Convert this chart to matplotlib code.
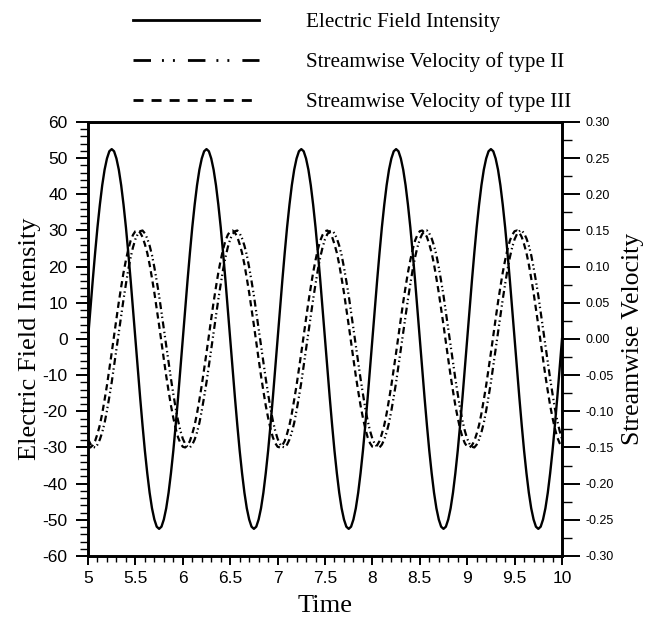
import numpy as np
import matplotlib
matplotlib.use("Agg")
from matplotlib import pyplot as plt
from matplotlib.lines import Line2D
from matplotlib.ticker import MultipleLocator, FormatStrFormatter

plt.rcParams['lines.scale_dashes'] = False
plt.rcParams['axes.unicode_minus'] = False

time = np.linspace(5, 10, 201)

electric_field = [
    0, 8.2, 16.2, 23.8, 30.9, 37.1, 42.5, 46.8, 49.9, 51.9, 52.5, 51.9, 49.9, 46.8, 42.5, 37.1, 30.9, 23.8, 16.2, 8.2,
    0, -8.2, -16.2, -23.8, -30.9, -37.1, -42.5, -46.8, -49.9, -51.9, -52.5, -51.9, -49.9, -46.8, -42.5, -37.1, -30.9, -23.8, -16.2, -8.2,
    0, 8.2, 16.2, 23.8, 30.9, 37.1, 42.5, 46.8, 49.9, 51.9, 52.5, 51.9, 49.9, 46.8, 42.5, 37.1, 30.9, 23.8, 16.2, 8.2,
    0, -8.2, -16.2, -23.8, -30.9, -37.1, -42.5, -46.8, -49.9, -51.9, -52.5, -51.9, -49.9, -46.8, -42.5, -37.1, -30.9, -23.8, -16.2, -8.2,
    0, 8.2, 16.2, 23.8, 30.9, 37.1, 42.5, 46.8, 49.9, 51.9, 52.5, 51.9, 49.9, 46.8, 42.5, 37.1, 30.9, 23.8, 16.2, 8.2,
    0, -8.2, -16.2, -23.8, -30.9, -37.1, -42.5, -46.8, -49.9, -51.9, -52.5, -51.9, -49.9, -46.8, -42.5, -37.1, -30.9, -23.8, -16.2, -8.2,
    0, 8.2, 16.2, 23.8, 30.9, 37.1, 42.5, 46.8, 49.9, 51.9, 52.5, 51.9, 49.9, 46.8, 42.5, 37.1, 30.9, 23.8, 16.2, 8.2,
    0, -8.2, -16.2, -23.8, -30.9, -37.1, -42.5, -46.8, -49.9, -51.9, -52.5, -51.9, -49.9, -46.8, -42.5, -37.1, -30.9, -23.8, -16.2, -8.2,
    0, 8.2, 16.2, 23.8, 30.9, 37.1, 42.5, 46.8, 49.9, 51.9, 52.5, 51.9, 49.9, 46.8, 42.5, 37.1, 30.9, 23.8, 16.2, 8.2,
    0, -8.2, -16.2, -23.8, -30.9, -37.1, -42.5, -46.8, -49.9, -51.9, -52.5, -51.9, -49.9, -46.8, -42.5, -37.1, -30.9, -23.8, -16.2, -8.2,
    0,
]

velocity_II = [
    -0.138, -0.145, -0.149, -0.150, -0.146, -0.139, -0.129, -0.116, -0.099, -0.080, -0.060, -0.037, -0.014, 0.009, 0.033, 0.055, 0.076, 0.096, 0.113, 0.127,
    0.138, 0.145, 0.149, 0.150, 0.146, 0.139, 0.129, 0.116, 0.099, 0.080, 0.060, 0.037, 0.014, -0.009, -0.033, -0.055, -0.076, -0.096, -0.113, -0.127,
    -0.138, -0.145, -0.149, -0.150, -0.146, -0.139, -0.129, -0.116, -0.099, -0.080, -0.060, -0.037, -0.014, 0.009, 0.033, 0.055, 0.076, 0.096, 0.113, 0.127,
    0.138, 0.145, 0.149, 0.150, 0.146, 0.139, 0.129, 0.116, 0.099, 0.080, 0.060, 0.037, 0.014, -0.009, -0.033, -0.055, -0.076, -0.096, -0.113, -0.127,
    -0.138, -0.145, -0.149, -0.150, -0.146, -0.139, -0.129, -0.116, -0.099, -0.080, -0.060, -0.037, -0.014, 0.009, 0.033, 0.055, 0.076, 0.096, 0.113, 0.127,
    0.138, 0.145, 0.149, 0.150, 0.146, 0.139, 0.129, 0.116, 0.099, 0.080, 0.060, 0.037, 0.014, -0.009, -0.033, -0.055, -0.076, -0.096, -0.113, -0.127,
    -0.138, -0.145, -0.149, -0.150, -0.146, -0.139, -0.129, -0.116, -0.099, -0.080, -0.060, -0.037, -0.014, 0.009, 0.033, 0.055, 0.076, 0.096, 0.113, 0.127,
    0.138, 0.145, 0.149, 0.150, 0.146, 0.139, 0.129, 0.116, 0.099, 0.080, 0.060, 0.037, 0.014, -0.009, -0.033, -0.055, -0.076, -0.096, -0.113, -0.127,
    -0.138, -0.145, -0.149, -0.150, -0.146, -0.139, -0.129, -0.116, -0.099, -0.080, -0.060, -0.037, -0.014, 0.009, 0.033, 0.055, 0.076, 0.096, 0.113, 0.127,
    0.138, 0.145, 0.149, 0.150, 0.146, 0.139, 0.129, 0.116, 0.099, 0.080, 0.060, 0.037, 0.014, -0.009, -0.033, -0.055, -0.076, -0.096, -0.113, -0.127,
    -0.138,
]

velocity_III = [
    -0.149, -0.150, -0.147, -0.141, -0.131, -0.119, -0.103, -0.084, -0.064, -0.042, -0.019, 0.005, 0.028, 0.051, 0.072, 0.092, 0.109, 0.124, 0.136, 0.144,
    0.149, 0.150, 0.147, 0.141, 0.131, 0.119, 0.103, 0.084, 0.064, 0.042, 0.019, -0.005, -0.028, -0.051, -0.072, -0.092, -0.109, -0.124, -0.136, -0.144,
    -0.149, -0.150, -0.147, -0.141, -0.131, -0.119, -0.103, -0.084, -0.064, -0.042, -0.019, 0.005, 0.028, 0.051, 0.072, 0.092, 0.109, 0.124, 0.136, 0.144,
    0.149, 0.150, 0.147, 0.141, 0.131, 0.119, 0.103, 0.084, 0.064, 0.042, 0.019, -0.005, -0.028, -0.051, -0.072, -0.092, -0.109, -0.124, -0.136, -0.144,
    -0.149, -0.150, -0.147, -0.141, -0.131, -0.119, -0.103, -0.084, -0.064, -0.042, -0.019, 0.005, 0.028, 0.051, 0.072, 0.092, 0.109, 0.124, 0.136, 0.144,
    0.149, 0.150, 0.147, 0.141, 0.131, 0.119, 0.103, 0.084, 0.064, 0.042, 0.019, -0.005, -0.028, -0.051, -0.072, -0.092, -0.109, -0.124, -0.136, -0.144,
    -0.149, -0.150, -0.147, -0.141, -0.131, -0.119, -0.103, -0.084, -0.064, -0.042, -0.019, 0.005, 0.028, 0.051, 0.072, 0.092, 0.109, 0.124, 0.136, 0.144,
    0.149, 0.150, 0.147, 0.141, 0.131, 0.119, 0.103, 0.084, 0.064, 0.042, 0.019, -0.005, -0.028, -0.051, -0.072, -0.092, -0.109, -0.124, -0.136, -0.144,
    -0.149, -0.150, -0.147, -0.141, -0.131, -0.119, -0.103, -0.084, -0.064, -0.042, -0.019, 0.005, 0.028, 0.051, 0.072, 0.092, 0.109, 0.124, 0.136, 0.144,
    0.149, 0.150, 0.147, 0.141, 0.131, 0.119, 0.103, 0.084, 0.064, 0.042, 0.019, -0.005, -0.028, -0.051, -0.072, -0.092, -0.109, -0.124, -0.136, -0.144,
    -0.149,
]

labels = ["Electric Field Intensity",
          "Streamwise Velocity of type II",
          "Streamwise Velocity of type III"]

serif = "Liberation Serif"
sans = "Liberation Sans"

fig = plt.figure(figsize=(6.48, 6.17), dpi=100)
ax = fig.add_axes([0.1358, 0.0989, 0.7315, 0.7034])
ax2 = ax.twinx()

ax.plot(time, electric_field, color="black", lw=1.7)
ax2.plot(time, velocity_II, color="black", lw=1.6,
         linestyle=(0, (5, 2.5, 1, 2, 1, 2.5)))
ax2.plot(time, velocity_III, color="black", lw=1.6,
         linestyle=(0, (4.5, 3)))

ax.set_xlim(5, 10)
ax.set_ylim(-60, 60)
ax2.set_ylim(-0.30, 0.30)

ax.xaxis.set_major_locator(MultipleLocator(0.5))
ax.xaxis.set_minor_locator(MultipleLocator(0.1))
ax.xaxis.set_major_formatter(FormatStrFormatter('%g'))
ax.yaxis.set_major_locator(MultipleLocator(10))
ax.yaxis.set_minor_locator(MultipleLocator(2))
ax2.yaxis.set_major_locator(MultipleLocator(0.05))
ax2.yaxis.set_minor_locator(MultipleLocator(0.025))
ax2.yaxis.set_major_formatter(FormatStrFormatter('%.2f'))

ax.tick_params(axis='x', which='major', direction='out', length=6.5, width=1.4,
               labelsize=12.5, pad=4, top=False)
ax.tick_params(axis='x', which='minor', direction='out', length=4.1, width=1.0, top=False)
ax.tick_params(axis='y', which='major', direction='out', length=8.6, width=1.4,
               labelsize=12.5, pad=6)
ax.tick_params(axis='y', which='minor', direction='out', length=5.5, width=1.0)
ax2.tick_params(axis='y', which='major', direction='out', length=13, width=1.4,
                labelsize=9, pad=4)
ax2.tick_params(axis='y', which='minor', direction='out', length=7.2, width=1.0)

for a in (ax, ax2):
    for lab in a.get_xticklabels() + a.get_yticklabels():
        lab.set_fontfamily(sans)
    for s in a.spines.values():
        s.set_linewidth(1.9)

ax.set_xlabel("Time", fontfamily=serif, fontsize=19, labelpad=7)
ax.set_ylabel("Electric Field Intensity", fontfamily=serif, fontsize=19, labelpad=1)
ax2.set_ylabel("Streamwise Velocity", fontfamily=serif, fontsize=18.5, labelpad=6)

# legend drawn with longer dash patterns, as in the reference
handles = [
    Line2D([], [], color="black", lw=2),
    Line2D([], [], color="black", lw=2, linestyle=(0, (12.6, 7.9, 1.4, 6.5, 1.4, 9.4))),
    Line2D([], [], color="black", lw=2, linestyle=(0, (7.2, 5.8))),
]
fig.legend(handles, labels, loc="upper left", bbox_to_anchor=(0.185, 1.0),
           frameon=False, handlelength=6.0, handletextpad=2.2, labelspacing=0.95,
           borderpad=0.1, prop={"family": serif, "size": 15.2})

fig.savefig("out.png", dpi=100)
